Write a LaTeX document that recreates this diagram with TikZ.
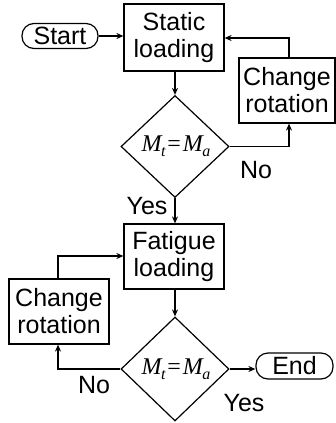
\documentclass[tikz,border=0pt]{standalone}
\usepackage{fontspec}
\setmainfont{Liberation Sans}
\newfontfamily\tnr{Liberation Serif}
\usetikzlibrary{arrows.meta,shapes.geometric}
\newcommand{\MtMa}{{\tnr\fontsize{24}{24}\selectfont\itshape M\kern-0.5pt\raisebox{-0.45ex}{\fontsize{16}{16}\selectfont t}\kern2pt{\upshape=}\kern2pt M\kern-0.5pt\raisebox{-0.45ex}{\fontsize{16}{16}\selectfont a}}}
\begin{document}
\begin{tikzpicture}[x=1pt,y=-1pt,
  every node/.style={font=\fontsize{25}{27}\selectfont},
  box/.style={draw,line width=1.2pt,align=center,inner sep=0pt},
  term/.style={draw,line width=1.2pt,rounded corners=12pt,inner sep=0pt},
  dia/.style={draw,line width=1.2pt,diamond,inner sep=0pt,minimum width=108pt,minimum height=102pt},
  conn/.style={line width=1.2pt,-{Stealth[length=7pt,width=6pt]}},
  lbl/.style={inner sep=0pt}]
\useasboundingbox (0,0) rectangle (336,423);
\node[term,minimum width=76pt,minimum height=25pt] (start) at (60,36) {Start};
\node[box,minimum width=100pt,minimum height=67pt] (static) at (174,37.5) {Static\\loading};
\node[box,minimum width=96pt,minimum height=65pt] (cr1) at (287,90.5) {Change\\rotation};
\node[dia] (d1) at (175,146.5) {};
\node at ([xshift=1pt]d1) {\MtMa};
\node[box,minimum width=100pt,minimum height=65pt] (fat) at (174,256.5) {Fatigue\\loading};
\node[box,minimum width=100pt,minimum height=65pt] (cr2) at (59,311.5) {Change\\rotation};
\node[dia,minimum height=104pt] (d2) at (175,369) {};
\node at ([xshift=1pt]d2) {\MtMa};
\node[term,minimum width=77pt,minimum height=26pt] (end) at (294.5,366) {End};
\node[lbl] (no1) at (256,170) {No};
\node[lbl] (yes1) at (147,206) {Yes};
\node[lbl] (no2) at (94,385) {No};
\node[lbl] (yes2) at (244,403) {Yes};
\coordinate (c1) at (289,38);
\coordinate (c2) at (58,256);
\draw[conn] (start.east) -- (static.west |- start.east);
\draw[conn] (cr1.north -| c1) -- (c1) -- (static.east |- c1);
\draw[conn] (static.south -| d1.north) -- (d1.north);
\draw[conn] (d1.east) -- (d1.east -| c1) -- (cr1.south -| c1);
\draw[conn] (d1.south) -- (fat.north -| d1.south);
\draw[conn] (cr2.north -| c2) -- (c2) -- (fat.west |- c2);
\draw[conn] (fat.south -| d2.north) -- (d2.north);
\draw[conn] (d2.west) -- (d2.west -| c2) -- (cr2.south -| c2);
\draw[conn] (d2.east) -- (end.west |- d2.east);
\end{tikzpicture}
\end{document}
